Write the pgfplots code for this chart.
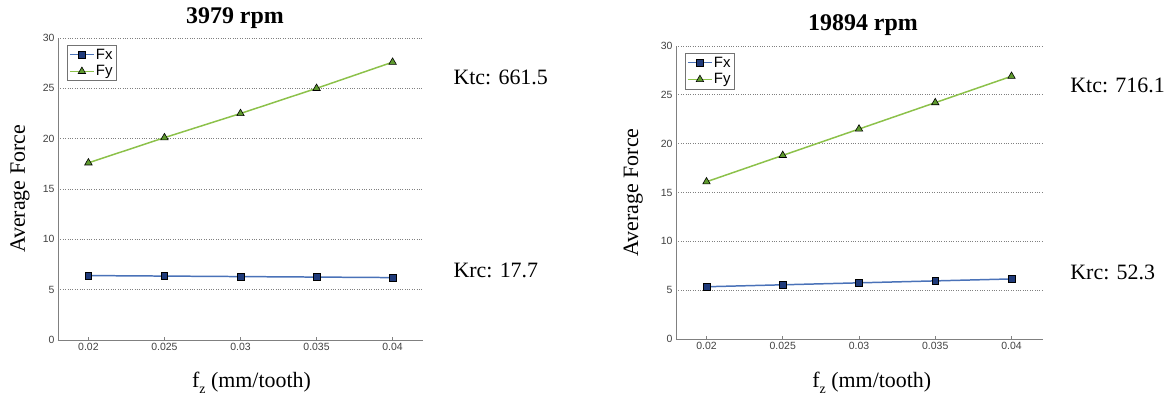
\documentclass[border=0pt]{standalone}
\usepackage{fontspec}
\setmainfont{Liberation Serif}
\setsansfont{Liberation Sans}
\usepackage{pgfplots}
\pgfplotsset{compat=1.18}
\definecolor{fxline}{HTML}{4A72B8}
\definecolor{fxmark}{HTML}{1F3A7A}
\definecolor{fyline}{HTML}{8CC14A}
\definecolor{fymark}{HTML}{5E9A2E}
\pgfplotsset{myax/.style={
  scale only axis, clip=false,
  axis x line=bottom, axis y line=left,
  axis line style={-, black!50, line width=0.9pt},
  xmin=0.018, xmax=0.042, ymin=0, ymax=30,
  scaled x ticks=false,
  xtick={0.02,0.025,0.03,0.035,0.04},
  xticklabels={0.02,0.025,0.03,0.035,0.04},
  ytick={0,5,10,15,20,25,30},
  /pgf/number format/assume math mode=true,
  ymajorgrids, grid style={dotted, black!50, line width=0.7pt},
  tick align=inside, major tick length=3bp,
  xtick style={black!50, line width=0.6pt}, ytick style={draw=none},
  ticklabel style={font=\sffamily\fontsize{10.5}{12}\selectfont, text=black!75},
  xlabel={f\raisebox{-0.55ex}{\fontsize{14}{14}\selectfont z} (mm/tooth)},
  ylabel={Average Force},
  label style={font=\fontsize{22}{26}\selectfont},
  title style={font=\bfseries\fontsize{24}{28}\selectfont, anchor=center},
  legend cell align=left,
  legend image code/.code={%
    \draw[#1, line width=1pt] (0bp,0bp) -- (24bp,0bp);
    \draw[#1] plot coordinates {(12bp,0bp)};},
  legend style={anchor=north west, draw=black!55, line width=0.6pt,
    nodes={font=\sffamily\fontsize{15}{17}\selectfont, inner sep=1.5pt},
    inner sep=2pt, row sep=2pt},
}}
\begin{document}
\begin{tikzpicture}
\path[use as bounding box] (0,0) rectangle (1167bp,402bp);
% left
\begin{axis}[myax, at={(58bp,62bp)}, anchor=south west, width=365bp, height=302bp,
  title={3979 rpm}, title style={at={(axis description cs:0.485,1.047)}},
  xlabel style={at={(axis description cs:0.53,-0.142)}, anchor=center},
  ylabel style={at={(axis description cs:-0.104,0.5)}, anchor=center, rotate=0},
  legend style={at={(axis description cs:0.025,0.977)}}]
\addplot[color=fxline, line width=1.5pt, mark=square*, mark size=3.3bp,
  mark options={fill=fxmark, draw=black, line width=0.6pt}]
  coordinates {(0.02,6.4) (0.025,6.35) (0.03,6.3) (0.035,6.25) (0.04,6.2)};
\addlegendentry{Fx}
\addplot[color=fyline, line width=1.5pt, mark=triangle*, mark size=4.3bp,
  mark options={fill=fymark, draw=black, line width=0.6pt}]
  coordinates {(0.02,17.6) (0.025,20.1) (0.03,22.5) (0.035,25.0) (0.04,27.6)};
\addlegendentry{Fy}
\node[anchor=west, font=\fontsize{22}{26}\selectfont] at (axis description cs:1.074,0.868) {Ktc: 661.5};
\node[anchor=west, font=\fontsize{22}{26}\selectfont] at (axis description cs:1.074,0.232) {Krc: 17.7};
\end{axis}
% right
\begin{axis}[myax, at={(676bp,63bp)}, anchor=south west, width=366bp, height=293bp,
  title={19894 rpm}, title style={at={(axis description cs:0.511,1.051)}},
  xlabel style={at={(axis description cs:0.535,-0.15)}, anchor=center},
  ylabel style={at={(axis description cs:-0.117,0.5)}, anchor=center, rotate=0},
  legend style={at={(axis description cs:0.025,0.976)}}]
\addplot[color=fxline, line width=1.5pt, mark=square*, mark size=3.3bp,
  mark options={fill=fxmark, draw=black, line width=0.6pt}]
  coordinates {(0.02,5.35) (0.025,5.55) (0.03,5.75) (0.035,5.95) (0.04,6.15)};
\addlegendentry{Fx}
\addplot[color=fyline, line width=1.5pt, mark=triangle*, mark size=4.3bp,
  mark options={fill=fymark, draw=black, line width=0.6pt}]
  coordinates {(0.02,16.1) (0.025,18.8) (0.03,21.5) (0.035,24.2) (0.04,26.9)};
\addlegendentry{Fy}
\node[anchor=west, font=\fontsize{22}{26}\selectfont] at (axis description cs:1.068,0.867) {Ktc: 716.1};
\node[anchor=west, font=\fontsize{22}{26}\selectfont] at (axis description cs:1.068,0.229) {Krc: 52.3};
\end{axis}
\end{tikzpicture}
\end{document}
